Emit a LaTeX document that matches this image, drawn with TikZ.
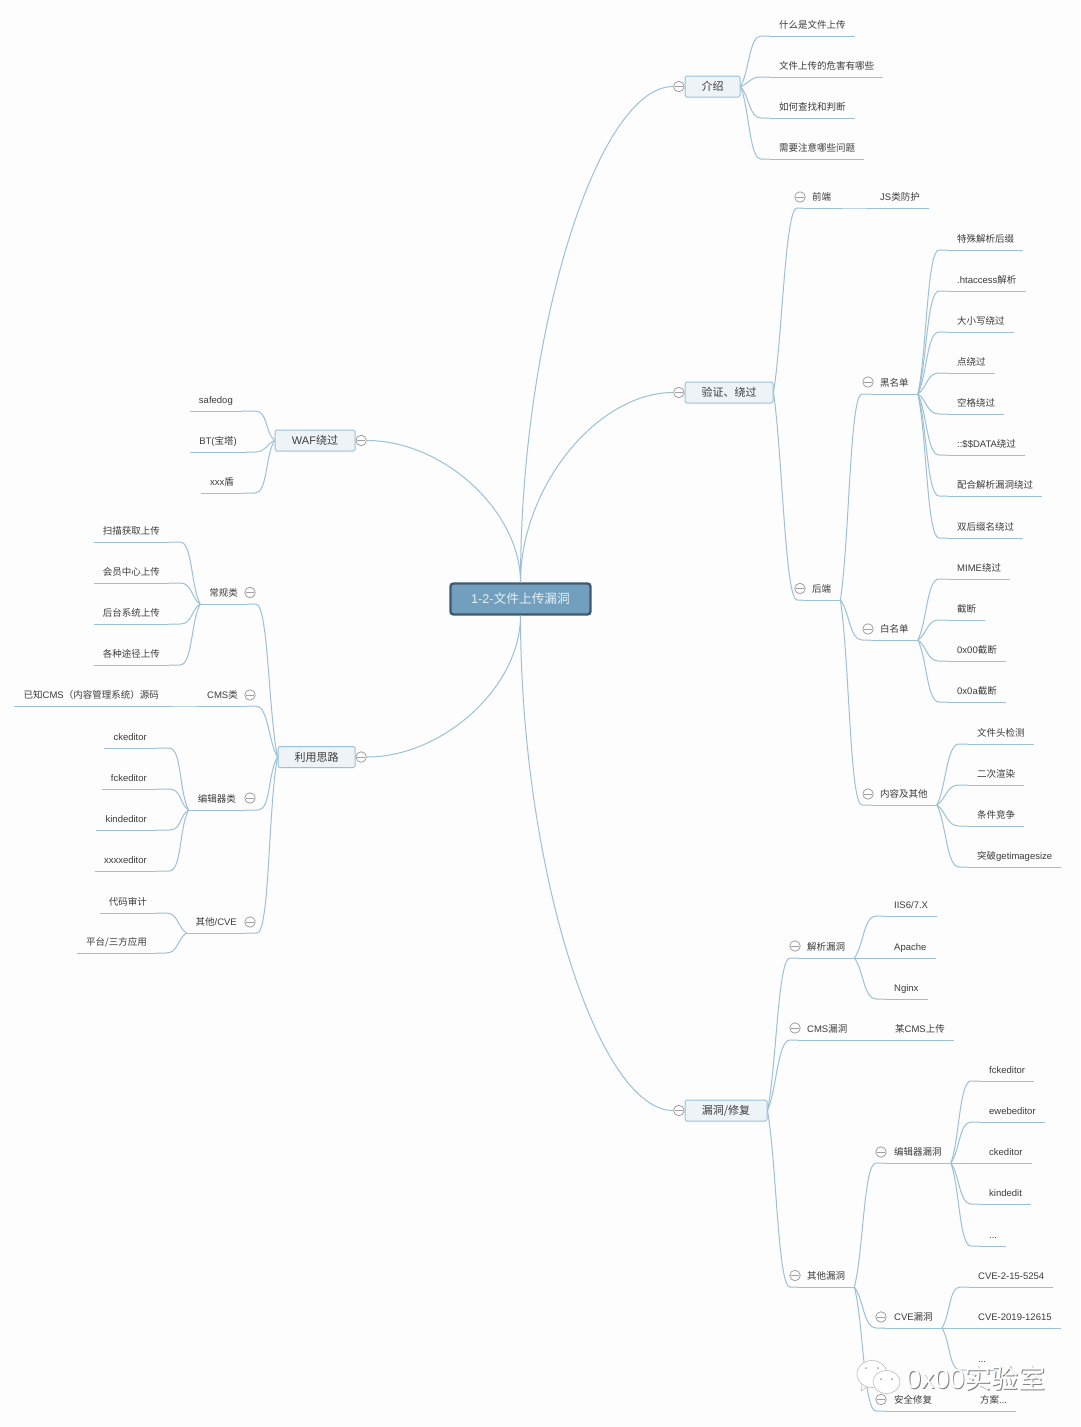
\documentclass[tikz,border=0pt]{standalone}
\usepackage{fontspec}
\setmainfont{Noto Sans CJK SC}
\newfontfamily\latfont{Liberation Sans}
\usetikzlibrary{calc,positioning}
\definecolor{paper}{HTML}{FDFDFD}
\definecolor{rootfill}{HTML}{739FBE}
\definecolor{rootline}{HTML}{3F5A6E}
\definecolor{rootink}{HTML}{E6EFF5}
\definecolor{topicfill}{HTML}{EEF3F7}
\definecolor{branchline}{HTML}{9CC0D8}
\definecolor{ink}{HTML}{3C3C3C}
\definecolor{foldline}{HTML}{A0A0A0}
\tikzset{
  subnode/.style={anchor=south west, inner xsep=9pt, inner ysep=5.5pt, text height=7pt, text depth=2pt, text=ink,
    font=\fontsize{9.5}{11}\selectfont,
    append after command={(\tikzlastnode.south west) edge[draw=branchline, line width=1pt] (\tikzlastnode.south east)}},
  subleft/.style={subnode, anchor=south east},
  topic/.style={draw=branchline, fill=topicfill, rounded corners=1.5pt, line width=1pt, minimum height=21pt, inner sep=0pt, text=ink, font=\fontsize{11}{13}\selectfont},
  fold/.style={circle, draw=foldline, fill=paper, line width=.8pt, minimum size=10.5pt, inner sep=0pt,
    path picture={\draw[foldline, line width=.8pt] ([xshift=1.5pt]path picture bounding box.west) -- ([xshift=-1.5pt]path picture bounding box.east);}},
  twig/.style={draw=branchline, line width=1pt, to path={let \p1=(\tikztostart), \p2=(\tikztotarget), \p3=($(\p1)!0.6!(\p2)+(#1,0)$) in
    .. controls ($(\p1)!0.3!(\p2)$) and (\x3,\y2) .. ($(\tikztotarget)+(#1,0)$) -- (\tikztotarget)}},
  limb/.style={draw=branchline, line width=1pt, to path={let \p1=(\tikztostart), \p2=(\tikztotarget), \p3=($(\p1)!0.5!(\p2)$) in
    .. controls (\x1,\y3) and (\x3,\y2) .. (\tikztotarget)}},
}
\begin{document}
\begin{tikzpicture}[x=1pt, y=-1pt]
  \path[use as bounding box, fill=paper] (0,0) rectangle (1080,1427);

  % centre
  \node[draw=rootline, fill=rootfill, line width=2.4pt, rounded corners=3pt, minimum width=140pt, minimum height=31pt, text=rootink, font=\fontsize{12.7}{15}\selectfont] (root) at (520.5,599) {{\latfont 1-2-}文件上传漏洞};

  % main topics
  \node[topic, minimum width=55pt] (intro) at (712.5,86.5) {介绍};
  \node[topic, minimum width=88pt] (bypass) at (729,392.5) {验证、绕过};
  \node[topic, minimum width=82pt] (repair) at (726,1110.5) {漏洞/修复};
  \node[topic, minimum width=80pt] (waf) at (315,440.5) {{\latfont WAF}绕过};
  \node[topic, minimum width=77pt] (usage) at (316.5,757) {利用思路};
  \node[fold, left=0pt of intro] (fintro) {};
  \node[fold, left=0pt of bypass] (fbypass) {};
  \node[fold, left=0pt of repair] (frepair) {};
  \node[fold, right=0pt of waf] (fwaf) {};
  \node[fold, right=0pt of usage] (fusage) {};

  % intro
  \node[subnode] (i1) at (770,36) {什么是文件上传};
  \node[subnode] (i2) at (770,77) {文件上传的危害有哪些};
  \node[subnode] (i3) at (770,118) {如何查找和判断};
  \node[subnode] (i4) at (770,159) {需要注意哪些问题};

  % bypass
  \node[subnode] (front) at (803,208) {前端};
  \node[subnode] (jsguard) at (871,208) {{\latfont JS}类防护};
  \node[subnode] (back) at (803,600) {后端};
  \node[subnode] (black) at (871,394) {黑名单};
  \node[subnode] (white) at (871,640) {白名单};
  \node[subnode] (content) at (871,805) {内容及其他};
  \node[subnode] (b1) at (948,250) {特殊解析后缀};
  \node[subnode] (b2) at (948,291) {{\latfont .htaccess}解析};
  \node[subnode] (b3) at (948,332) {大小写绕过};
  \node[subnode] (b4) at (948,373) {点绕过};
  \node[subnode] (b5) at (948,414) {空格绕过};
  \node[subnode] (b6) at (948,455) {{\latfont ::\$\$DATA}绕过};
  \node[subnode] (b7) at (948,496) {配合解析漏洞绕过};
  \node[subnode] (b8) at (948,538) {双后缀名绕过};
  \node[subnode] (w1) at (948,579) {{\latfont MIME}绕过};
  \node[subnode] (w2) at (948,620) {截断};
  \node[subnode] (w3) at (948,661) {{\latfont 0x00}截断};
  \node[subnode] (w4) at (948,702) {{\latfont 0x0a}截断};
  \node[subnode] (c1) at (968,744) {文件头检测};
  \node[subnode] (c2) at (968,785) {二次渲染};
  \node[subnode] (c3) at (968,826) {条件竞争};
  \node[subnode] (c4) at (968,867) {突破{\latfont getimagesize}};

  % repair
  \node[subnode] (parse) at (798,958) {解析漏洞};
  \node[subnode] (p1) at (885,916) {\latfont IIS6/7.X};
  \node[subnode] (p2) at (885,958) {\latfont Apache};
  \node[subnode] (p3) at (885,999) {\latfont Nginx};
  \node[subnode] (cmsbug) at (798,1040) {{\latfont CMS}漏洞};
  \node[subnode] (cmsup) at (886,1040) {某{\latfont CMS}上传};
  \node[subnode] (other) at (798,1287) {其他漏洞};
  \node[subnode] (editbug) at (885,1163) {编辑器漏洞};
  \node[subnode] (e1) at (980,1081) {\latfont fckeditor};
  \node[subnode] (e2) at (980,1122) {\latfont ewebeditor};
  \node[subnode] (e3) at (980,1163) {\latfont ckeditor};
  \node[subnode] (e4) at (980,1204) {\latfont kindedit};
  \node[subnode] (e5) at (980,1246) {\latfont ...};
  \node[subnode] (cve) at (885,1328) {{\latfont CVE}漏洞};
  \node[subnode] (v1) at (969,1287) {\latfont CVE-2-15-5254};
  \node[subnode] (v2) at (969,1328) {\latfont CVE-2019-12615};
  \node[subnode] (v3) at (969,1370) {\latfont ...};
  \node[subnode] (safe) at (885,1411) {安全修复};
  \node[subnode] (plan) at (971,1411) {方案{\latfont ...}};

  % waf
  \node[subleft] (w-dog) at (242,411) {\latfont safedog};
  \node[subleft] (w-bt) at (246,452) {{\latfont BT(}宝塔{\latfont )}};
  \node[subleft] (w-xxx) at (243,493) {{\latfont xxx}盾};

  % usage
  \node[subleft] (normal) at (247,604) {常规类};
  \node[subleft] (u1) at (169,542) {扫描获取上传};
  \node[subleft] (u2) at (169,583) {会员中心上传};
  \node[subleft] (u3) at (169,624) {后台系统上传};
  \node[subleft] (u4) at (169,665) {各种途径上传};
  \node[subleft] (cmskind) at (247,706) {{\latfont CMS}类};
  \node[subleft] (cmssrc) at (168,706) {已知{\latfont CMS}（内容管理系统）源码};
  \node[subleft] (editkind) at (245,810) {编辑器类};
  \node[subleft] (k1) at (156,748) {\latfont ckeditor};
  \node[subleft] (k2) at (156,789) {\latfont fckeditor};
  \node[subleft] (k3) at (156,830) {\latfont kindeditor};
  \node[subleft] (k4) at (156,871) {\latfont xxxxeditor};
  \node[subleft] (elsekind) at (246,933) {其他{\latfont /CVE}};
  \node[subleft] (o1) at (156,913) {代码审计};
  \node[subleft] (o2) at (156,953) {平台/三方应用};

  % fold marks
  \node[fold] (ffront) at (800,197) {};
  \node[fold] (fback) at (800,588.5) {};
  \node[fold] (fblack) at (868,382) {};
  \node[fold] (fwhite) at (868,629) {};
  \node[fold] (fcontent) at (868,794) {};
  \node[fold] (fparse) at (795,946) {};
  \node[fold] (fcmsbug) at (795,1028) {};
  \node[fold] (fother) at (795,1275.5) {};
  \node[fold] (feditbug) at (881,1152) {};
  \node[fold] (fcve) at (881,1317) {};
  \node[fold] (fsafe) at (881,1399.5) {};
  \node[fold] (fnormal) at (250,592.5) {};
  \node[fold] (fcmskind) at (250,695) {};
  \node[fold] (feditkind) at (250,798) {};
  \node[fold] (felsekind) at (250,922) {};

  % root branches
  \draw[limb] (root.north) to (fintro.west);
  \draw[limb] (root.north) to (fbypass.west);
  \draw[limb] (root.south) to (frepair.west);
  \draw[limb] (root.north) to (fwaf.east);
  \draw[limb] (root.south) to (fusage.east);

  % right side
  \draw[twig=-9pt] (intro.east) to (i1.south west);
  \draw[twig=-9pt] (intro.east) to (i2.south west);
  \draw[twig=-9pt] (intro.east) to (i3.south west);
  \draw[twig=-9pt] (intro.east) to (i4.south west);
  \draw[twig=-6pt] (bypass.east) to (front.south west);
  \draw[twig=-6pt] (bypass.east) to (back.south west);
  \draw[twig=-9pt] (front.south east) to (jsguard.south west);
  \draw[twig=-9pt] (back.south east) to (black.south west);
  \draw[twig=-9pt] (back.south east) to (white.south west);
  \draw[twig=-9pt] (back.south east) to (content.south west);
  \draw[twig=-9pt] (black.south east) to (b1.south west);
  \draw[twig=-9pt] (black.south east) to (b2.south west);
  \draw[twig=-9pt] (black.south east) to (b3.south west);
  \draw[twig=-9pt] (black.south east) to (b4.south west);
  \draw[twig=-9pt] (black.south east) to (b5.south west);
  \draw[twig=-9pt] (black.south east) to (b6.south west);
  \draw[twig=-9pt] (black.south east) to (b7.south west);
  \draw[twig=-9pt] (black.south east) to (b8.south west);
  \draw[twig=-9pt] (white.south east) to (w1.south west);
  \draw[twig=-9pt] (white.south east) to (w2.south west);
  \draw[twig=-9pt] (white.south east) to (w3.south west);
  \draw[twig=-9pt] (white.south east) to (w4.south west);
  \draw[twig=-9pt] (content.south east) to (c1.south west);
  \draw[twig=-9pt] (content.south east) to (c2.south west);
  \draw[twig=-9pt] (content.south east) to (c3.south west);
  \draw[twig=-9pt] (content.south east) to (c4.south west);
  \draw[twig=-8pt] (repair.east) to (parse.south west);
  \draw[twig=-8pt] (repair.east) to (cmsbug.south west);
  \draw[twig=-8pt] (repair.east) to (other.south west);
  \draw[twig=-9pt] (parse.south east) to (p1.south west);
  \draw[twig=-9pt] (parse.south east) to (p2.south west);
  \draw[twig=-9pt] (parse.south east) to (p3.south west);
  \draw[twig=-9pt] (cmsbug.south east) to (cmsup.south west);
  \draw[twig=-9pt] (other.south east) to (editbug.south west);
  \draw[twig=-9pt] (other.south east) to (cve.south west);
  \draw[twig=-9pt] (other.south east) to (safe.south west);
  \draw[twig=-9pt] (editbug.south east) to (e1.south west);
  \draw[twig=-9pt] (editbug.south east) to (e2.south west);
  \draw[twig=-9pt] (editbug.south east) to (e3.south west);
  \draw[twig=-9pt] (editbug.south east) to (e4.south west);
  \draw[twig=-9pt] (editbug.south east) to (e5.south west);
  \draw[twig=-9pt] (cve.south east) to (v1.south west);
  \draw[twig=-9pt] (cve.south east) to (v2.south west);
  \draw[twig=-9pt] (cve.south east) to (v3.south west);
  \draw[twig=-9pt] (safe.south east) to (plan.south west);

  % left side
  \draw[twig=13pt] (waf.west) to (w-dog.south east);
  \draw[twig=9pt] (waf.west) to (w-bt.south east);
  \draw[twig=12pt] (waf.west) to (w-xxx.south east);
  \draw[twig=9pt] (usage.west) to (normal.south east);
  \draw[twig=9pt] (usage.west) to (cmskind.south east);
  \draw[twig=13pt] (usage.west) to (editkind.south east);
  \draw[twig=11pt] (usage.west) to (elsekind.south east);
  \draw[twig=11pt] (normal.south west) to (u1.south east);
  \draw[twig=11pt] (normal.south west) to (u2.south east);
  \draw[twig=11pt] (normal.south west) to (u3.south east);
  \draw[twig=11pt] (normal.south west) to (u4.south east);
  \draw[twig=9pt] (cmskind.south west) to (cmssrc.south east);
  \draw[twig=13pt] (editkind.south west) to (k1.south east);
  \draw[twig=13pt] (editkind.south west) to (k2.south east);
  \draw[twig=13pt] (editkind.south west) to (k3.south east);
  \draw[twig=13pt] (editkind.south west) to (k4.south east);
  \draw[twig=10pt] (elsekind.south west) to (o1.south east);
  \draw[twig=10pt] (elsekind.south west) to (o2.south east);

  % watermark
  \draw[foldline!70, fill=white, line width=.6pt] (862,1384) -- (861,1391) -- (868,1386) -- cycle;
  \draw[foldline!70, fill=white, line width=.6pt] (872,1374) ellipse [x radius=15, y radius=13.5];
  \draw[foldline!70, fill=white, line width=.6pt] (886.5,1382) ellipse [x radius=13.5, y radius=11.5];
  \fill[foldline] (866,1368) circle (1) (878,1368) circle (1) (881,1379) circle (1) (892,1379) circle (1);
  \node[text=foldline!80!black, font=\fontsize{27}{29}\selectfont] (markshade) at (976.8,1378.8) {{\latfont 0x00}实验室};
  \node[text=white, font=\fontsize{27}{29}\selectfont] (mark) at (976,1378) {{\latfont 0x00}实验室};
\end{tikzpicture}
\end{document}
